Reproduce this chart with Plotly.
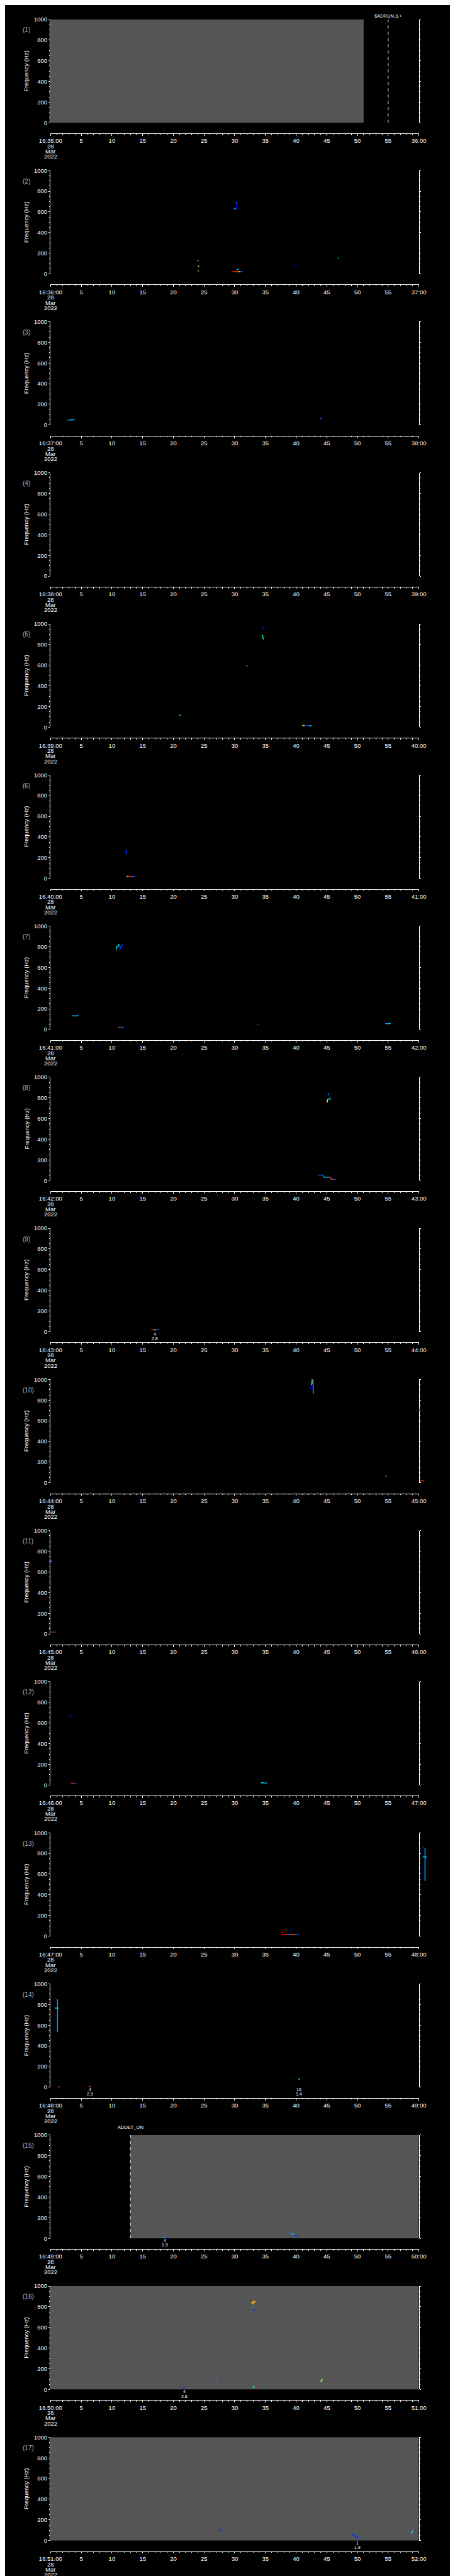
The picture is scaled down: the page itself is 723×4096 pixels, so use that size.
import plotly.graph_objects as go

REF_W, REF_H = 1024, 5802
W, H = 723, 4096

# ---------------- data ----------------
start_minutes = list(range(35, 52))          # 16:35 ... 16:51, one panel per minute
date_lines = ["28", "Mar", "2022"]
freq_range = [0, 1000]
time_range = [0, 60]

GRAY = "#555555"
gray_spans = {1: (0, 51), 15: (13, 60), 16: (0, 60), 17: (0, 60)}
events = {1: (55, "$ADRUN,3,+"), 15: (13, "ADDET_ON")}

# marks: (times [s], freqs [Hz], colour)
marks_p02 = [
    ([30.25, 30.25], [687, 626], "#0000ff"),
    ([29.8, 30.0], [647, 630], "#0000ff"),
    ([29.9, 30.2], [630, 630], "#00c8ff"),
    ([30.2, 30.4], [687, 687], "#00c8ff"),
    ([23.9, 24.1], [127, 129], "#00ff96"),
    ([24.0, 24.2], [76, 74], "#ffff00"),
    ([24.0, 24.1], [36, 24], "#ffc800"),
    ([24.1, 24.3], [22, 18], "#0000ff"),
    ([29.6, 30.0], [25, 22], "#ff0000"),
    ([30.0, 30.6], [22, 22], "#ff3c00"),
    ([30.6, 30.9], [22, 22], "#ffff00"),
    ([30.9, 31.3], [22, 22], "#0064ff"),
    ([30.3, 30.6], [44, 44], "#00c8ff"),
    ([39.5, 39.8], [76, 76], "#0000ff"),
    ([46.8, 47.0], [156, 150], "#00c8ff"),
]
marks_p03 = [
    ([2.7, 3.1], [46, 48], "#0064ff"),
    ([3.1, 3.9], [50, 52], "#00c8ff"),
    ([43.9, 44.2], [62, 62], "#0050ff"),
]
marks_p04 = []
marks_p05 = [
    ([34.5, 34.6, 34.7], [973, 970, 943], "#0000ff"),
    ([34.55, 34.6, 34.7], [894, 860, 850], "#00ff96"),
    ([31.9, 32.1], [594, 594], "#00c8ff"),
    ([20.9, 21.2], [117, 117], "#00c8ff"),
    ([41.0, 41.4], [17, 17], "#ffc800"),
    ([41.4, 42.1], [17, 17], "#0032ff"),
    ([42.1, 42.5], [15, 14], "#00ff96"),
]
marks_p06 = [
    ([12.3, 12.35, 12.5], [234, 270, 270], "#0032ff"),
    ([12.4, 12.7], [19, 19], "#ffc800"),
    ([12.7, 13.3], [17, 17], "#ff0000"),
    ([13.3, 13.7], [17, 17], "#0064ff"),
]
marks_p07 = [
    ([10.74, 10.8, 11.0, 11.1, 11.2], [773, 803, 803, 822, 822], "#00e6c8"),
    ([11.2, 11.3, 11.45, 11.6, 11.7], [822, 773, 803, 803, 822], "#0032ff"),
    ([3.5, 4.0], [132, 132], "#00c8ff"),
    ([4.0, 4.2, 4.6], [128, 134, 134], "#0096ff"),
    ([11.0, 11.4], [21, 21], "#ff3200"),
    ([11.4, 12.0], [21, 21], "#0064ff"),
    ([33.7, 33.9], [51, 51], "#0064ff"),
    ([54.5, 55.0], [57, 57], "#0096ff"),
    ([55.0, 55.4], [57, 59], "#00c8ff"),
]
marks_p08 = [
    ([45.08, 45.12], [754, 791], "#c8ff00"),
    ([45.12, 45.5, 45.55], [787, 787, 806], "#00c8ff"),
    ([45.2, 45.35], [823, 846], "#0064ff"),
    ([43.6, 44.4], [53, 53], "#0050ff"),
    ([44.4, 44.5, 45.6], [53, 33, 33], "#00b4ff"),
    ([45.6, 45.7, 46.0], [33, 14, 14], "#ff3200"),
    ([46.0, 46.5], [14, 14], "#0050ff"),
]
marks_p09 = [
    ([16.4, 16.9], [19, 19], "#ff0000"),
    ([16.9, 17.1], [19, 19], "#ffff00"),
    ([17.1, 17.6], [19, 19], "#0064ff"),
]
marks_p10 = [
    ([42.4, 42.45], [900, 950], "#0000ff"),
    ([42.45, 42.6, 42.6, 42.75], [950, 960, 1000, 1000], "#96ff64"),
    ([42.75, 42.8], [1000, 863], "#0096ff"),
    ([54.55, 54.7], [64, 64], "#ffff00"),
    ([60.0, 60.2], [700, 711], "#0032ff"),
    ([59.95, 60.05], [277, 277], "#00c8ff"),
    ([60.2, 60.8], [20, 20], "#ff3200"),
]
marks_p11 = [
    ([0.0, 0.1, 0.2], [691, 715, 706], "#0064ff"),
    ([0.0, 0.1], [271, 271], "#00c8ff"),
    ([0.2, 0.6], [18, 18], "#ff0000"),
    ([0.6, 0.9], [18, 18], "#0032ff"),
]
marks_p12 = [
    ([3.1, 3.15, 3.2], [684, 684, 648], "#0000aa"),
    ([3.3, 3.8], [18, 18], "#ff0000"),
    ([3.8, 4.2], [16, 16], "#0064ff"),
    ([34.3, 34.7], [20, 24], "#00ffc8"),
    ([34.7, 35.3], [20, 18], "#0096ff"),
]
marks_p13 = [
    ([60.6, 60.75], [859, 859], "#0032ff"),
    ([61.0, 61.0], [851, 538], "#0096ff"),
    ([60.6, 61.3], [766, 766], "#00c8ff"),
    ([61.0, 61.15], [538, 538], "#0064ff"),
    ([37.5, 38.5], [15, 15], "#ff0000"),
    ([38.5, 39.0], [15, 15], "#0064ff"),
    ([39.0, 39.8], [15, 17], "#ff3200"),
    ([39.8, 40.3], [17, 17], "#0064ff"),
    ([37.6, 37.9], [37, 37], "#ff0000"),
    ([39.05, 39.15], [65, 62], "#0032ff"),
    ([39.1, 39.2], [40, 40], "#0064ff"),
]
marks_p14 = [
    ([0.8, 0.9], [856, 856], "#0032ff"),
    ([1.13, 1.13], [851, 535], "#0096ff"),
    ([0.68, 1.31], [766, 766], "#00c8ff"),
    ([1.1, 1.2], [535, 535], "#0064ff"),
    ([1.2, 1.35], [3, 3], "#ff0000"),
    ([1.35, 1.45], [3, 3], "#ffff00"),
    ([6.2, 6.4], [8, 8], "#0050ff"),
    ([6.4, 6.6], [8, 8], "#ff3200"),
    ([40.4, 40.6], [70, 90], "#00c8ff"),
]
marks_p15 = [
    ([15.2, 15.3], [81, 85], "#0064ff"),
    ([18.4, 18.7], [8, 8], "#00c8ff"),
    ([18.7, 18.9], [8, 8], "#0032ff"),
    ([38.9, 39.2], [53, 50], "#0096ff"),
    ([39.2, 39.7], [42, 42], "#00c8ff"),
    ([39.7, 40.2], [30, 25], "#0032ff"),
]
marks_p16 = [
    ([32.8, 32.9, 33.0, 33.1, 33.2, 33.4], [830, 850, 826, 857, 850, 840], "#ffaa00"),
    ([32.9, 33.1], [795, 795], "#00ff96"),
    ([33.1, 33.15, 33.3], [790, 760, 760], "#0032ff"),
    ([23.85, 24.0], [386, 386], "#00c8ff"),
    ([27.1, 27.2], [78, 85], "#00c8ff"),
    ([27.2, 27.4], [85, 88], "#0032ff"),
    ([44.0, 44.3], [74, 100], "#96ff64"),
    ([32.9, 33.3], [25, 25], "#00ff96"),
    ([33.3, 33.6], [22, 22], "#ff0000"),
    ([33.6, 33.9], [22, 22], "#0064ff"),
    ([21.6, 21.9], [18, 18], "#0032ff"),
]
marks_p17 = [
    ([27.5, 27.8], [82, 113], "#0032ff"),
    ([49.1, 49.3, 49.6, 49.9, 50.2], [69, 55, 42, 33, 29], "#0032ff"),
    ([58.8, 59.1], [75, 103], "#00c8ff"),
    ([58.8, 58.9], [72, 80], "#ffff00"),
]
marks = {1: [], 2: marks_p02, 3: marks_p03, 4: marks_p04, 5: marks_p05, 6: marks_p06,
         7: marks_p07, 8: marks_p08, 9: marks_p09, 10: marks_p10, 11: marks_p11,
         12: marks_p12, 13: marks_p13, 14: marks_p14, 15: marks_p15, 16: marks_p16,
         17: marks_p17}

# notes under the panels: (time, line1, line2)
notes = {9: [(17.0, "4", "2.8")],
         14: [(6.4, "4", "2.9"), (40.5, "16", "1.4")],
         15: [(18.6, "4", "1.9")],
         16: [(21.8, "4", "2.8")],
         17: [(50.0, "1", "1.9")]}

# ---------------- layout geometry (reference px) ----------------
PL, PR = 80.3, 945.1
TOP0, PITCH, PH, AX_OFF = 24.0, 341.27, 233.5, 24.0


def px(x):
    return x / REF_W


def py(y):
    return 1 - y / REF_H


FONT = "Liberation Sans"
FS = 9.5
WHITE = "#ffffff"

fig = go.Figure()
annotations = []
shapes = []
layout_axes = {}

for i, m in enumerate(start_minutes):
    k = i + 1
    sfx = "" if k == 1 else str(k)
    xa, ya = "x" + sfx, "y" + sfx
    top = TOP0 + i * PITCH
    bot = top + PH
    axy = bot + AX_OFF

    layout_axes["xaxis" + sfx] = dict(
        domain=[px(PL), px(PR)], anchor="free", position=py(axy),
        range=time_range, tickmode="linear", tick0=0, dtick=5,
        labelalias={"0": "16:%02d:00" % m, "60": "%02d:00" % (m + 1)},
        showline=True, linecolor=WHITE, linewidth=1,
        ticks="outside", ticklen=2.8, tickwidth=1, tickcolor=WHITE,
        minor=dict(tickmode="linear", tick0=0, dtick=1, ticklen=1.6,
                   tickcolor=WHITE, tickwidth=1, showgrid=False),
        showgrid=False, zeroline=False,
        tickfont=dict(family=FONT, size=FS, color=WHITE),
    )
    layout_axes["yaxis" + sfx] = dict(
        domain=[py(bot), py(top)], anchor=xa, range=freq_range,
        tickmode="linear", tick0=0, dtick=200,
        showline=True, linecolor=WHITE, linewidth=1, mirror="ticks",
        ticks="outside", ticklen=2.4, tickwidth=1, tickcolor=WHITE,
        minor=dict(tickmode="linear", tick0=0, dtick=50, ticklen=1.6,
                   tickcolor=WHITE, tickwidth=1, showgrid=False),
        showgrid=False, zeroline=False,
        tickfont=dict(family=FONT, size=FS, color=WHITE),
    )

    # invisible anchor trace so that every panel is drawn
    fig.add_trace(go.Scatter(x=time_range, y=freq_range, mode="markers",
                             marker=dict(opacity=0, size=1), xaxis=xa, yaxis=ya,
                             showlegend=False, hoverinfo="skip"))

    # gray spectrogram background area
    if k in gray_spans:
        t0, t1 = gray_spans[k]
        f0, f1 = freq_range
        fig.add_trace(go.Scatter(x=[t0, t1, t1, t0, t0], y=[f0, f0, f1, f1, f0],
                                 mode="lines", fill="toself", fillcolor=GRAY,
                                 line=dict(width=0, color=GRAY),
                                 xaxis=xa, yaxis=ya, showlegend=False, hoverinfo="skip"))

    # event marker
    if k in events:
        te, label = events[k]
        fig.add_trace(go.Scatter(x=[te, te], y=freq_range, mode="lines",
                                 line=dict(color=WHITE, width=1, dash="5px,5px"),
                                 xaxis=xa, yaxis=ya, showlegend=False, hoverinfo="skip"))
        off = 8 if k == 1 else 18
        annotations.append(dict(xref=xa, x=te, yref="paper", y=py(top - off),
                                text=label, showarrow=False, xanchor="center", yanchor="middle",
                                font=dict(family=FONT, size=7.5, color=WHITE)))

    # spectral marks
    for t, f, c in marks[k]:
        if max(t) <= time_range[1]:
            fig.add_trace(go.Scatter(x=t, y=f, mode="lines",
                                     line=dict(color=c, width=1.6),
                                     xaxis=xa, yaxis=ya, showlegend=False, hoverinfo="skip"))
        else:
            # drawn past the right end of the axis, as in the original
            shapes.append(dict(type="line", xref=xa + " domain", yref=ya + " domain",
                               x0=t[0] / time_range[1], x1=t[-1] / time_range[1],
                               y0=f[0] / freq_range[1], y1=f[-1] / freq_range[1],
                               line=dict(color=c, width=1.6)))

    # notes below the plot
    for tn, l1, l2 in notes.get(k, []):
        annotations.append(dict(xref=xa, x=tn, yref="paper", y=py(bot + 5), text=l1,
                                showarrow=False, xanchor="center", yanchor="middle",
                                font=dict(family=FONT, size=7, color=WHITE)))
        annotations.append(dict(xref=xa, x=tn, yref="paper", y=py(bot + 15), text=l2,
                                showarrow=False, xanchor="center", yanchor="middle",
                                font=dict(family=FONT, size=7, color=WHITE)))

    # date lines under the first tick label
    for j, txt in enumerate(date_lines):
        annotations.append(dict(xref=xa, x=0, yref="paper", y=py(axy + 29 + j * 11.6),
                                text=txt, showarrow=False, xanchor="center", yanchor="middle",
                                font=dict(family=FONT, size=FS, color=WHITE)))

    # y title and panel number
    annotations.append(dict(xref="paper", x=px(23), yref="paper", y=py(top + PH / 2),
                            text="Frequency (Hz)", textangle=-90, showarrow=False,
                            xanchor="center", yanchor="middle",
                            font=dict(family=FONT, size=FS, color=WHITE)))
    annotations.append(dict(xref="paper", x=px(12), yref="paper", y=py(top + 24),
                            text="(%d)" % k, showarrow=False, xanchor="left", yanchor="middle",
                            font=dict(family=FONT, size=10, color="#b4b4b4")))

fig.update_layout(**layout_axes)
fig.update_layout(width=W, height=H, margin=dict(l=0, r=0, t=0, b=0),
                  paper_bgcolor="#000000", plot_bgcolor="#000000",
                  showlegend=False, annotations=annotations, shapes=shapes)

fig.write_html("out.html")
